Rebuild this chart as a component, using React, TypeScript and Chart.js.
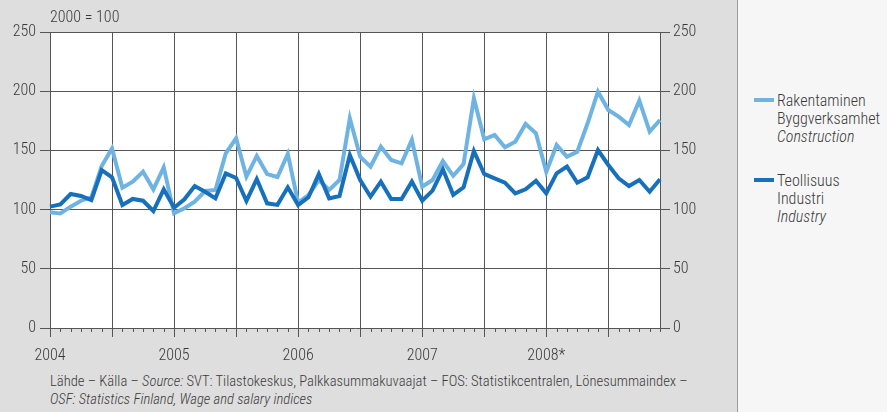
import { useEffect, useRef } from 'react';
import { Chart, registerables } from 'chart.js';

Chart.register(...registerables);

const FONT = '"Liberation Sans Narrow", "Roboto Condensed", "DejaVu Sans Condensed", "Arial Narrow", sans-serif';
const TEXT = '#3a3a3a';
const GRID = '#555555';
const LIGHT = '#6fb3e3';
const DARK = '#1670bb';

const YEARS = ['2004', '2005', '2006', '2007', '2008*'];
const MONTHS = ['01', '02', '03', '04', '05', '06', '07', '08', '09', '10', '11', '12'];
const CATEGORIES = YEARS.flatMap((y) => MONTHS.map((m) => `${y.replace('*', '')}-${m}`));
const Y_TICKS = [0, 50, 100, 150, 200, 250];

const CONSTRUCTION = [
  97.7, 96.8, 102.5, 107.5, 110.4, 136.8, 151.7, 118.5, 123.6, 132, 117.1, 135.7,
  96.8, 101.1, 106.7, 115.7, 116.6, 147.5, 160.2, 127.8, 145.3, 130, 127.5, 147,
  105.9, 112.3, 125, 116.6, 125, 177.1, 144.7, 136.3, 153.1, 141.9, 139.1, 158.8,
  119.3, 125, 141, 128.5, 138.5, 194, 159.4, 163, 152.6, 157.3, 172.3, 164.4,
  132, 154.6, 144.7, 148.9, 172.9, 199.6, 184.1, 178.5, 171.5, 192, 165.8, 175.7,
];

const INDUSTRY = [
  102.5, 104.4, 113.2, 111.5, 108.1, 133.4, 127.3, 103.9, 109, 107.5, 98.8, 117.1,
  101.6, 108.7, 119.9, 115.1, 109.5, 130.6, 126.7, 107.3, 125.8, 105.3, 104, 118.8,
  103.9, 110.4, 130.1, 109.5, 111.5, 146.1, 125, 110.9, 123.6, 109, 109, 123.6,
  107.5, 116, 134, 112.5, 118.8, 149.5, 130.1, 126.4, 122.7, 113.7, 117.1, 124.4,
  113.7, 130.6, 136.3, 122.7, 127.3, 150.3, 137.7, 126.4, 119.9, 125, 115.1, 125.6,
];

const LEGEND = [
  { color: LIGHT, lines: ['Rakentaminen', 'Byggverksamhet'], italic: 'Construction', top: 92 },
  { color: DARK, lines: ['Teollisuus', 'Industri'], italic: 'Industry', top: 172 },
];

const framePlugin = {
  id: 'frame',
  beforeDraw(chart: any) {
    const { ctx, chartArea: a } = chart;
    ctx.save();
    ctx.fillStyle = '#ffffff';
    ctx.fillRect(a.left, a.top, a.right - a.left, a.bottom - a.top);
    ctx.restore();
  },
  afterDraw(chart: any) {
    const { ctx, chartArea: a } = chart;
    const xs = chart.scales.x;
    ctx.save();
    ctx.strokeStyle = GRID;
    ctx.lineWidth = 1;
    ctx.beginPath();
    for (let i = 0; i < CATEGORIES.length; i++) {
      const px = Math.round(xs.getPixelForValue(i)) + 0.5;
      const len = i % 6 === 0 ? 9 : 4;
      ctx.moveTo(px, a.bottom);
      ctx.lineTo(px, a.bottom + len);
    }
    ctx.stroke();
    ctx.restore();
  },
};

function ChartCanvas() {
  const ref = useRef<HTMLCanvasElement | null>(null);
  useEffect(() => {
    if (!ref.current) return;
    const tickFont = { family: FONT, size: 16, weight: '300' };
    const chart = new Chart(ref.current, {
      type: 'line',
      data: {
        labels: CATEGORIES,
        datasets: [
          {
            label: 'Teollisuus',
            data: INDUSTRY,
            borderColor: DARK,
            borderWidth: 4,
            pointRadius: 0,
            tension: 0,
            order: 0,
          },
          {
            label: 'Rakentaminen',
            data: CONSTRUCTION,
            borderColor: LIGHT,
            borderWidth: 4,
            pointRadius: 0,
            tension: 0,
            order: 1,
          },
        ],
      },
      options: {
        animation: false,
        responsive: false,
        devicePixelRatio: 1,
        layout: { padding: { top: 32, left: 0, right: 0, bottom: 0 } },
        plugins: { legend: { display: false }, tooltip: { enabled: false } },
        scales: {
          x: {
            type: 'category',
            offset: false,
            afterFit(scale: any) {
              scale.height = 44;
            },
            grid: {
              drawTicks: false,
              color: (c: any) => (c.index % 6 === 0 ? GRID : 'rgba(0,0,0,0)'),
              lineWidth: 1,
            },
            border: { display: false },
            ticks: {
              autoSkip: false,
              maxRotation: 0,
              padding: 18,
              color: TEXT,
              font: tickFont,
              callback: (_v: any, i: number) => (i % 12 === 0 ? YEARS[i / 12] : ''),
            },
          },
          y: {
            position: 'left',
            min: 0,
            max: 250,
            afterFit(scale: any) {
              scale.width = 50;
            },
            afterBuildTicks(scale: any) {
              scale.ticks = Y_TICKS.map((v) => ({ value: v }));
            },
            grid: { color: GRID, lineWidth: 1, tickLength: 10, drawTicks: true },
            border: { display: true, color: GRID, width: 1 },
            ticks: { padding: 4, color: TEXT, font: tickFont },
          },
          y2: {
            position: 'right',
            min: 0,
            max: 250,
            afterFit(scale: any) {
              scale.width = 78;
            },
            afterBuildTicks(scale: any) {
              scale.ticks = Y_TICKS.map((v) => ({ value: v }));
            },
            grid: { drawOnChartArea: false, color: GRID, lineWidth: 1, tickLength: 10, drawTicks: true },
            border: { display: true, color: GRID, width: 1 },
            ticks: { padding: 3, color: TEXT, font: tickFont },
          },
        },
      },
      plugins: [framePlugin],
    } as any);
    return () => chart.destroy();
  }, []);
  return (
    <canvas
      ref={ref}
      width={738}
      height={372}
      style={{ position: 'absolute', left: 0, top: 0, width: 738, height: 372 }}
    />
  );
}

export default function App() {
  return (
    <div
      style={{
        position: 'fixed',
        left: 0,
        top: 0,
        width: 887,
        height: 412,
        overflow: 'hidden',
        fontFamily: FONT,
        fontWeight: 300,
        color: TEXT,
        background: '#dedede',
      }}
    >
      <div
        style={{
          position: 'absolute',
          left: 737,
          top: 0,
          width: 150,
          height: 412,
          background: '#f6f6f6',
          borderLeft: '1px solid #9a9a9a',
        }}
      />
      <ChartCanvas />
      <div style={{ position: 'absolute', left: 50, top: 8, fontSize: 16, lineHeight: '18px' }}>2000 = 100</div>
      {LEGEND.map((item) => (
        <div key={item.italic}>
          <div
            style={{
              position: 'absolute',
              left: 754,
              top: item.top + 6,
              width: 20,
              height: 4,
              background: item.color,
            }}
          />
          <div
            style={{
              position: 'absolute',
              left: 777,
              top: item.top,
              fontSize: 16,
              lineHeight: '18px',
              whiteSpace: 'nowrap',
            }}
          >
            {item.lines.map((l) => (
              <div key={l}>{l}</div>
            ))}
            <div style={{ fontStyle: 'italic' }}>{item.italic}</div>
          </div>
        </div>
      ))}
      <div
        style={{
          position: 'absolute',
          left: 50,
          top: 372,
          fontSize: 14.6,
          lineHeight: '18px',
          whiteSpace: 'nowrap',
        }}
      >
        <div>
          Lähde – Källa – <i>Source:</i> SVT: Tilastokeskus, Palkkasummakuvaajat – FOS: Statistikcentralen,
          Lönesummaindex –
        </div>
        <div style={{ fontStyle: 'italic' }}>OSF: Statistics Finland, Wage and salary indices</div>
      </div>
    </div>
  );
}
